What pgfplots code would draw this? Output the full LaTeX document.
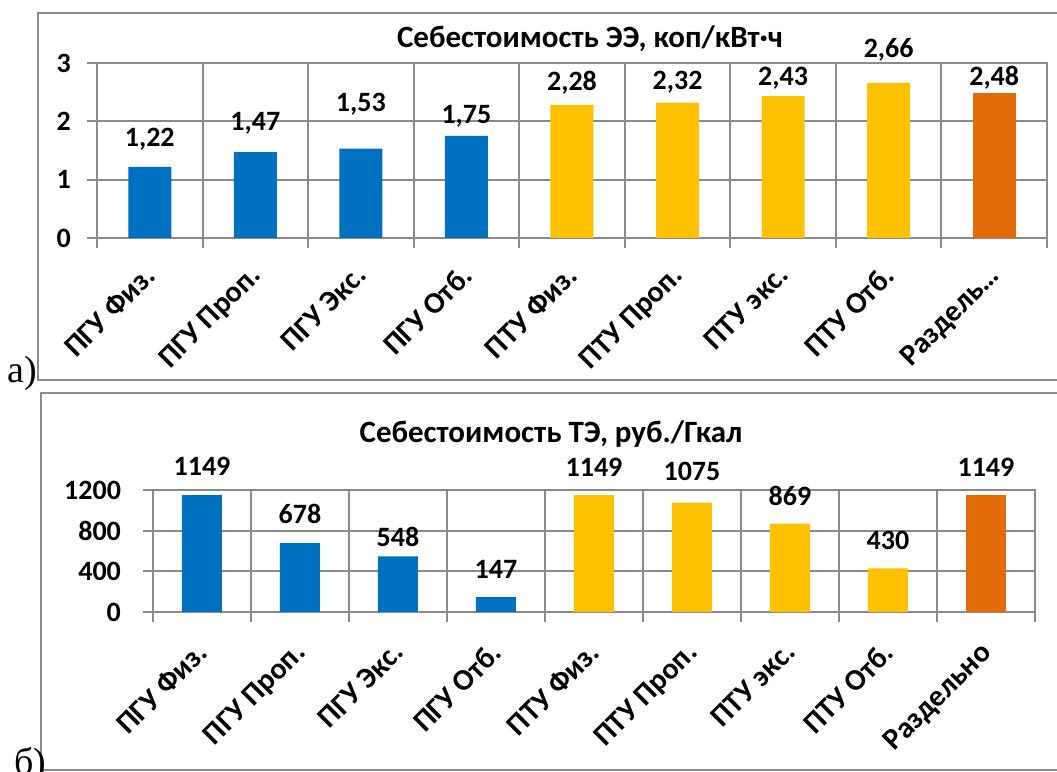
\documentclass[border=0pt]{standalone}
\usepackage{fontspec}
\setmainfont{Carlito}
\newfontfamily\serifabc{Liberation Serif}
\usepackage{pgfplots}
\pgfplotsset{compat=1.18}
\usepackage{pgfplotstable}

\definecolor{exblue}{HTML}{0070C0}
\definecolor{exyellow}{HTML}{FFC000}
\definecolor{exorange}{HTML}{E36C09}
\definecolor{exgrid}{HTML}{8A8A8A}

% x = category index, y = value, off = label centre above bar top (pt)
\pgfplotstableread{
x y off
0 1.22 14
1 1.47 14.5
2 1.53 22.5
3 1.75 10
}\eeA
\pgfplotstableread{
x y off
4 2.28 11
5 2.32 10
6 2.43 9
7 2.66 16.5
}\eeB
\pgfplotstableread{
x y off
8 2.48 8
}\eeC
\pgfplotstableread{
x y off
0 1149 14.5
1 678 14.5
2 548 9.5
3 147 14
}\teA
\pgfplotstableread{
x y off
4 1149 14
5 1075 15.5
6 869 14
7 430 14
}\teB
\pgfplotstableread{
x y off
8 1149 14
}\teC

\pgfplotsset{
  excel/.style={
    ybar, scale only axis,
    xmin=-0.5, xmax=8.5, ymin=0,
    /pgf/number format/assume math mode=true,
    axis line style={exgrid, line width=1pt},
    tick align=outside,
    xtick pos=left, ytick pos=left,
    xtick={0,...,8},
    major x tick style={draw=none},
    minor xtick={-0.5,0.5,...,8.5},
    minor x tick style={exgrid, line width=1pt},
    minor tick length=5pt,
    major tick length=5pt,
    ytick style={exgrid, line width=1pt},
    xminorgrids, ymajorgrids,
    grid style={exgrid, line width=1pt},
    minor grid style={exgrid, line width=1pt},
    visualization depends on={\thisrow{off} \as \off},
    every node near coord/.append style={anchor=center, yshift=\off pt,
      font=\bfseries\fontsize{14pt}{16pt}\selectfont},
  }
}

\begin{document}
\begin{tikzpicture}
\path[use as bounding box, clip] (0,0) rectangle (528.5pt,386pt);

% panel frames
\draw[exgrid, line width=1pt] (540pt,196pt) -| (19pt,379.5pt) -- (540pt,379.5pt);
\draw[exgrid, line width=1pt] (540pt,1pt) -| (20.5pt,189.5pt) -- (540pt,189.5pt);
\node[anchor=base west, inner sep=0pt, font=\serifabc\fontsize{19pt}{21pt}\selectfont] at (3.5pt,194.5pt) {а)};
\node[anchor=base west, inner sep=0pt, font=\serifabc\fontsize{19pt}{21pt}\selectfont] at (7pt,-1.5pt) {б)};

% top: electricity cost
\begin{axis}[excel,
  at={(48.5pt,267pt)}, anchor=south west,
  width=475pt, height=87.5pt,
  ymax=3, ytick={0,1,2,3},
  bar width=21.5pt,
  yticklabel style={font=\bfseries\fontsize{14pt}{16pt}\selectfont, xshift=-4.5pt},
  xticklabel style={font=\bfseries\fontsize{15pt}{17pt}\selectfont,
    xshift=-3.5pt, yshift=-6pt, rotate=45, anchor=north east, inner sep=1pt},
  xticklabels={ПГУ Физ.,ПГУ Проп.,ПГУ Экс.,ПГУ Отб.,ПТУ Физ.,ПТУ Проп.,ПТУ экс.,ПТУ Отб.,Раздель…},
  nodes near coords={\pgfmathprintnumber[use comma, fixed, fixed zerofill, precision=2]{\pgfplotspointmeta}},
]
\addplot[fill=exblue, draw=none, bar shift=0pt] table[x=x,y=y] {\eeA};
\addplot[fill=exyellow, draw=none, bar shift=0pt] table[x=x,y=y] {\eeB};
\addplot[fill=exorange, draw=none, bar shift=0pt] table[x=x,y=y] {\eeC};
\end{axis}
\node[anchor=base, font=\bfseries\fontsize{15.5pt}{17pt}\selectfont] at (295pt,362pt) {Себестоимость ЭЭ, коп/кВт·ч};

% bottom: heat cost
\begin{axis}[excel,
  at={(76.5pt,80pt)}, anchor=south west,
  width=441pt, height=61pt,
  ymax=1200, ytick={0,400,800,1200},
  bar width=20pt,
  yticklabel style={font=\bfseries\fontsize{14pt}{16pt}\selectfont, xshift=-7.5pt,
    /pgf/number format/1000 sep={}},
  xticklabel style={font=\bfseries\fontsize{15pt}{17pt}\selectfont,
    xshift=-3.5pt, yshift=-7.5pt, rotate=45, anchor=north east, inner sep=1pt},
  xticklabels={ПГУ Физ.,ПГУ Проп.,ПГУ Экс.,ПГУ Отб.,ПТУ Физ.,ПТУ Проп.,ПТУ экс.,ПТУ Отб.,Раздельно},
  nodes near coords={\pgfmathprintnumber[fixed, precision=0, 1000 sep={}]{\pgfplotspointmeta}},
]
\addplot[fill=exblue, draw=none, bar shift=0pt] table[x=x,y=y] {\teA};
\addplot[fill=exyellow, draw=none, bar shift=0pt] table[x=x,y=y] {\teB};
\addplot[fill=exorange, draw=none, bar shift=0pt] table[x=x,y=y] {\teC};
\end{axis}
\node[anchor=base, font=\bfseries\fontsize{15.5pt}{17pt}\selectfont] at (275.5pt,164.5pt) {Себестоимость ТЭ, руб./Гкал};
\end{tikzpicture}
\end{document}
